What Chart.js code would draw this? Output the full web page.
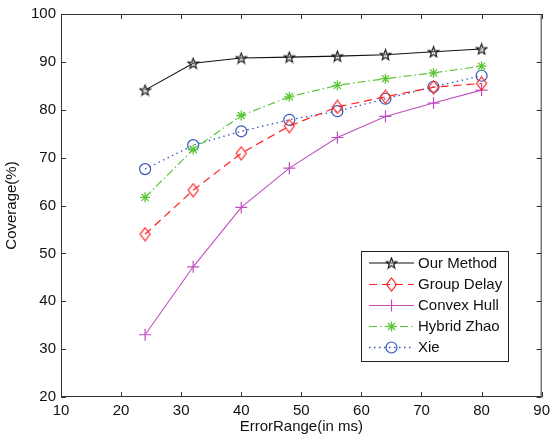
<!DOCTYPE html>
<html>
<head>
<meta charset="utf-8">
<script src="https://cdn.jsdelivr.net/npm/chart.js@4/dist/chart.umd.min.js"></script>
<style>
  html, body { margin: 0; padding: 0; background: #fff; }
  #wrap { width: 555px; height: 436px; }
</style>
</head>
<body>
<div id="wrap"><canvas id="c" width="555" height="436"></canvas></div>
<script>
// Error range (ms) at which each method was evaluated
const errorRange = [24, 32, 40, 48, 56, 64, 72, 80];

// Coverage (%) per method
const ourMethod   = [84.1, 89.7, 90.8, 91.0, 91.2, 91.5, 92.1, 92.7];
const groupDelay  = [54.0, 63.2, 70.9, 76.6, 80.6, 82.7, 84.7, 85.5];
const convexHull  = [33.0, 47.2, 59.6, 67.8, 74.2, 78.6, 81.4, 84.1];
const hybridZhao  = [61.7, 71.7, 78.8, 82.7, 85.1, 86.5, 87.7, 89.1];
const xie         = [67.6, 72.6, 75.5, 77.9, 79.7, 82.3, 84.8, 87.1];

const seriesNames = ['Our Method', 'Group Delay', 'Convex Hull', 'Hybrid Zhao', 'Xie'];

const xTicks = [10, 20, 30, 40, 50, 60, 70, 80, 90];
const yTicks = [20, 30, 40, 50, 60, 70, 80, 90, 100];

const FONT = 'Arial, "Liberation Sans", sans-serif';
const FS = 15;

// Outline pentagram marker
function makeStar(color) {
  const s = 13, c = document.createElement('canvas');
  c.width = s; c.height = s;
  const g = c.getContext('2d');
  const cx = s / 2, cy = s / 2 + 0.5, R = 5.6, r = 2.3;
  g.beginPath();
  for (let i = 0; i < 10; i++) {
    const a = -Math.PI / 2 + i * Math.PI / 5;
    const rad = i % 2 === 0 ? R : r;
    const x = cx + rad * Math.cos(a), y = cy + rad * Math.sin(a);
    i === 0 ? g.moveTo(x, y) : g.lineTo(x, y);
  }
  g.closePath();
  g.fillStyle = 'rgba(160,160,160,0.35)';
  g.fill();
  g.strokeStyle = color; g.lineWidth = 1.1; g.stroke();
  return c;
}

// Outline diamond marker (slightly taller than wide)
function makeDiamond(color) {
  const w = 13, h = 15, c = document.createElement('canvas');
  c.width = w; c.height = h;
  const g = c.getContext('2d');
  g.beginPath();
  g.moveTo(w / 2, 1); g.lineTo(w - 1.5, h / 2); g.lineTo(w / 2, h - 1); g.lineTo(1.5, h / 2);
  g.closePath();
  g.strokeStyle = color; g.lineWidth = 1.2; g.stroke();
  return c;
}

const colBlack = '#111111', colRed = '#ff2020', colMag = '#c04ec0', colGreen = '#5cc63a', colBlue = '#3355b5';
const starImg = makeStar(colBlack);
const diamondImg = makeDiamond(colRed);

function pts(vals) { return errorRange.map((x, i) => ({ x, y: vals[i] })); }

const datasets = [
  { label: seriesNames[0], data: pts(ourMethod), borderColor: colBlack, borderWidth: 1.1,
    pointStyle: starImg, pointRadius: 6, borderDash: [] },
  { label: seriesNames[1], data: pts(groupDelay), borderColor: colRed, borderWidth: 1.2,
    pointStyle: diamondImg, pointRadius: 6, borderDash: [8, 5] },
  { label: seriesNames[2], data: pts(convexHull), borderColor: colMag, borderWidth: 1.1,
    pointStyle: 'cross', pointRadius: 6, pointBorderWidth: 1.2, borderDash: [] },
  { label: seriesNames[3], data: pts(hybridZhao), borderColor: colGreen, borderWidth: 1.2,
    pointStyle: 'star', pointRadius: 5, pointBorderWidth: 1.3, borderDash: [8, 3, 1.5, 3] },
  { label: seriesNames[4], data: pts(xie), borderColor: colBlue, borderWidth: 1.3,
    pointStyle: 'circle', pointRadius: 5.5, pointBorderWidth: 1.2, borderDash: [1.5, 3.5] }
];
datasets.forEach(d => {
  d.pointBorderColor = d.borderColor;
  d.pointBackgroundColor = 'rgba(0,0,0,0)';
  d.backgroundColor = 'rgba(0,0,0,0)';
  d.fill = false;
  d.tension = 0;
  d.pointHoverRadius = d.pointRadius;
});

// Boxed axes with inward ticks on all four sides, plus the legend panel
const boxPlugin = {
  id: 'boxAxes',
  afterDraw(chart) {
    const { ctx, chartArea: a, scales } = chart;
    const xs = scales.x, ys = scales.y, len = 5;
    ctx.save();
    ctx.strokeStyle = '#333'; ctx.lineWidth = 1;
    ctx.strokeRect(a.left + 0.5, a.top + 0.5, a.right - a.left - 1, a.bottom - a.top - 1);
    ctx.beginPath();
    xTicks.forEach(v => {
      const px = Math.round(xs.getPixelForValue(v)) + 0.5;
      ctx.moveTo(px, a.bottom); ctx.lineTo(px, a.bottom - len);
      ctx.moveTo(px, a.top); ctx.lineTo(px, a.top + len);
    });
    yTicks.forEach(v => {
      const py = Math.round(ys.getPixelForValue(v)) + 0.5;
      ctx.moveTo(a.left, py); ctx.lineTo(a.left + len, py);
      ctx.moveTo(a.right, py); ctx.lineTo(a.right - len, py);
    });
    ctx.stroke();

    // legend
    const lx = 361, ly = 251, lw = 147, lh = 110;
    ctx.fillStyle = '#fff';
    ctx.fillRect(lx, ly, lw, lh);
    ctx.strokeStyle = '#222';
    ctx.strokeRect(lx + 0.5, ly + 0.5, lw, lh);
    const rows = [263, 284.5, 305.5, 326.5, 347.5];
    chart.data.datasets.forEach((d, i) => {
      const y = rows[i];
      ctx.save();
      ctx.strokeStyle = d.borderColor;
      ctx.lineWidth = d.borderWidth;
      ctx.setLineDash(d.borderDash);
      ctx.beginPath(); ctx.moveTo(369, y); ctx.lineTo(414, y); ctx.stroke();
      ctx.setLineDash([]);
      const mx = 391.5;
      if (d.pointStyle instanceof HTMLCanvasElement) {
        ctx.drawImage(d.pointStyle, mx - d.pointStyle.width / 2, y - d.pointStyle.height / 2);
      } else {
        ctx.fillStyle = 'rgba(0,0,0,0)';
        ctx.strokeStyle = d.pointBorderColor;
        ctx.lineWidth = d.pointBorderWidth;
        Chart.helpers.drawPoint(ctx, {
          pointStyle: d.pointStyle, radius: d.pointRadius, rotation: 0, borderWidth: d.pointBorderWidth
        }, mx, y);
      }
      ctx.restore();
      ctx.fillStyle = '#111';
      ctx.font = FS + 'px ' + FONT;
      ctx.textBaseline = 'middle';
      ctx.textAlign = 'left';
      ctx.fillText(d.label, 418, y + 0.5);
    });
    ctx.restore();
  }
};

new Chart(document.getElementById('c'), {
  type: 'line',
  data: { datasets },
  options: {
    responsive: false,
    animation: false,
    events: [],
    layout: { padding: { left: 0, right: 8, top: 14, bottom: 0 } },
    plugins: { legend: { display: false }, tooltip: { enabled: false } },
    scales: {
      x: {
        type: 'linear', min: 10, max: 90,
        afterBuildTicks(s) { s.ticks = xTicks.map(v => ({ value: v })); },
        afterFit(s) { s.height = 39; },
        grid: { display: false, drawTicks: false },
        border: { display: false },
        ticks: { color: '#111', font: { family: FONT, size: FS }, padding: 5, maxRotation: 0, autoSkip: false },
        title: { display: true, text: 'ErrorRange(in ms)', color: '#111',
                 font: { family: FONT, size: FS }, padding: { top: 0, bottom: 0 } }
      },
      y: {
        type: 'linear', min: 20, max: 100,
        afterBuildTicks(s) { s.ticks = yTicks.map(v => ({ value: v })); },
        afterFit(s) { s.width = 61; },
        grid: { display: false, drawTicks: false },
        border: { display: false },
        ticks: { color: '#111', font: { family: FONT, size: FS }, padding: 5, autoSkip: false },
        title: { display: true, text: 'Coverage(%)', color: '#111',
                 font: { family: FONT, size: FS }, padding: { top: 3, bottom: 0 } }
      }
    }
  },
  plugins: [boxPlugin]
});
</script>
</body>
</html>
